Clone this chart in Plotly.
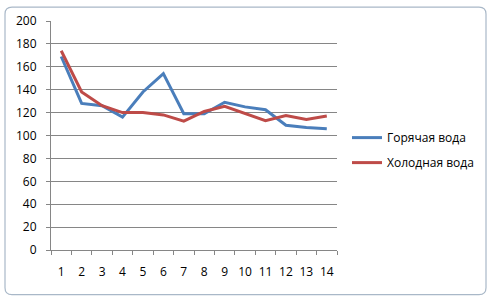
import plotly.graph_objects as go

categories = [str(i) for i in range(1, 15)]
hot_water = [169, 128, 126, 116, 138, 154, 119, 119, 129, 125, 122.5, 109, 107, 106]
cold_water = [174, 138, 126, 120, 120, 118, 112.5, 121, 125.5, 119.5, 113, 117.5, 114, 117]
y_ticks = list(range(0, 201, 20))

FONT = "Open Sans"
L, R, T, B = 51, 156, 19, 51
W, H = 493, 301
pw = W - L - R
ph = H - T - B

def px(x):
    return (x - L) / pw

def py(y):
    return (H - B - y) / ph

fig = go.Figure()
fig.add_trace(go.Scatter(x=categories, y=hot_water, mode="lines", name="Горячая вода",
                         line=dict(color="#4A7EBB", width=3), legendgroup="a"))
fig.add_trace(go.Scatter(x=categories, y=cold_water, mode="lines", name="Холодная вода",
                         line=dict(color="#BE4B48", width=3), legendgroup="b"))

# rounded chart border
x0, x1, y0, y1, r = 5, 486, 5, 295, 7
path = (f"M {px(x0+r)},{py(y0)} L {px(x1-r)},{py(y0)} Q {px(x1)},{py(y0)} {px(x1)},{py(y0+r)} "
        f"L {px(x1)},{py(y1-r)} Q {px(x1)},{py(y1)} {px(x1-r)},{py(y1)} "
        f"L {px(x0+r)},{py(y1)} Q {px(x0)},{py(y1)} {px(x0)},{py(y1-r)} "
        f"L {px(x0)},{py(y0+r)} Q {px(x0)},{py(y0)} {px(x0+r)},{py(y0)} Z")
fig.add_shape(type="path", path=path, xref="paper", yref="paper",
              line=dict(color="#A9B8C8", width=1.2), layer="below")

fig.update_layout(
    width=W, height=H,
    margin=dict(l=L, r=R, t=T, b=B),
    paper_bgcolor="white", plot_bgcolor="white",
    font=dict(family=FONT, size=12, color="#000000"),
    showlegend=True,
    legend=dict(x=px(347), y=py(122), xanchor="left", yanchor="top",
                font=dict(family=FONT, size=12, color="#000000"),
                tracegroupgap=6, itemwidth=30, bgcolor="rgba(0,0,0,0)"),
    xaxis=dict(type="category", range=[-0.5, len(categories) - 0.5],
               showgrid=False, showline=True, linecolor="#868686", linewidth=1,
               ticks="outside", ticklen=4, tickcolor="#868686", tickson="boundaries",
               tickangle=0, ticklabelstandoff=11, tickfont=dict(size=12),
               zeroline=False, fixedrange=True),
    yaxis=dict(range=[0, 200], tickvals=y_ticks, showgrid=True, gridcolor="#868686", gridwidth=1,
               showline=True, linecolor="#868686", linewidth=1, ticks="outside", ticklen=4,
               tickcolor="#868686", ticklabelstandoff=7, tickfont=dict(size=12),
               zeroline=False, fixedrange=True),
)

fig.write_html("out.html")
